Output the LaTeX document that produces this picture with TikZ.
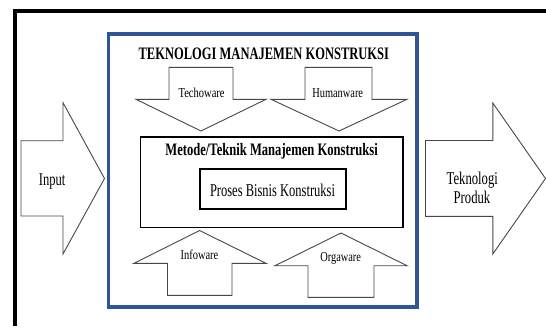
\documentclass[tikz,border=0pt]{standalone}
\usepackage{fontspec}
\usepackage{graphicx}
\setmainfont{Liberation Serif}
\definecolor{frameblue}{RGB}{47,85,151}
\newcommand{\sqz}[3]{\resizebox{#1}{\height}{\fontsize{#2}{#2}\selectfont #3}}
\tikzset{
  arrowshape/.style={draw=black!72, line width=0.9pt, fill=white, line join=miter},
  boxline/.style={draw=black, line width=1.8pt},
  lbl/.style={inner sep=0pt, anchor=base}
}
\begin{document}
\begin{tikzpicture}[x=1pt,y=-1pt]
\useasboundingbox (0,0) rectangle (546,327);
\fill[white] (0,0) rectangle (546,327);
% outer frame (partly cut off)
\draw[line width=3.3pt, line cap=butt] (15,326) -- (15,11) -- (546,11);
% blue box
\draw[frameblue, line width=3.2pt] (108.5,34) rectangle (417,307);
% Input arrow
\draw[arrowshape] (21,140.7) -- (63,140.7) -- (63,102.7) -- (104.5,178.5) -- (63,254) -- (63,216) -- (21,216) -- cycle;
% Teknologi Produk arrow
\draw[arrowshape] (425.5,140.5) -- (492.8,140.5) -- (492.8,103) -- (545.5,178.5) -- (492.8,254) -- (492.8,216.3) -- (425.5,216.3) -- cycle;
% Techoware (down)
\draw[arrowshape] (169,67.3) -- (233,67.3) -- (233,99.3) -- (266,99.3) -- (201,131) -- (136,99.3) -- (169,99.3) -- cycle;
% Humanware (down)
\draw[arrowshape] (305,67.3) -- (372,67.3) -- (372,99.3) -- (407,99.3) -- (339,131) -- (271,99.3) -- (305,99.3) -- cycle;
% Infoware (up)
\draw[arrowshape] (167.5,295.3) -- (232,295.3) -- (232,263.3) -- (266,263.3) -- (199.5,230.5) -- (134,263.3) -- (167.5,263.3) -- cycle;
% Orgaware (up)
\draw[arrowshape] (308,297.3) -- (374,297.3) -- (374,265.7) -- (407,265.7) -- (341,233) -- (275,265.7) -- (308,265.7) -- cycle;
% Metode box and Proses box
\draw[boxline] (140.5,137) rectangle (403,227.5);
\draw[boxline] (200,169.3) rectangle (346,209);
% texts
\node[lbl] (title) at (263.8,59) {\sqz{250.4pt}{17.5pt}{\bfseries TEKNOLOGI MANAJEMEN KONSTRUKSI}};
\node[lbl] (metode) at (271.6,155.3) {\sqz{212.4pt}{17.5pt}{\bfseries Metode/Teknik Manajemen Konstruksi}};
\node[lbl] (proses) at (272.5,196) {\sqz{125pt}{18pt}{Proses Bisnis Konstruksi}};
\node[lbl] (techo) at (201.6,97) {\sqz{46pt}{13.6pt}{Techoware}};
\node[lbl] (human) at (337.7,97) {\sqz{50.8pt}{13.6pt}{Humanware}};
\node[lbl] (info) at (199.5,259.3) {\sqz{37.6pt}{13.6pt}{Infoware}};
\node[lbl] (orga) at (340.7,261.7) {\sqz{40.7pt}{13.6pt}{Orgaware}};
\node[lbl] (input) at (52.2,185) {\sqz{26.5pt}{18pt}{Input}};
\node[lbl] (tek) at (472.3,184.3) {\sqz{51.2pt}{18pt}{Teknologi}};
\node[lbl] (prod) at (472,203) {\sqz{36.6pt}{18pt}{Produk}};
\end{tikzpicture}
\end{document}
